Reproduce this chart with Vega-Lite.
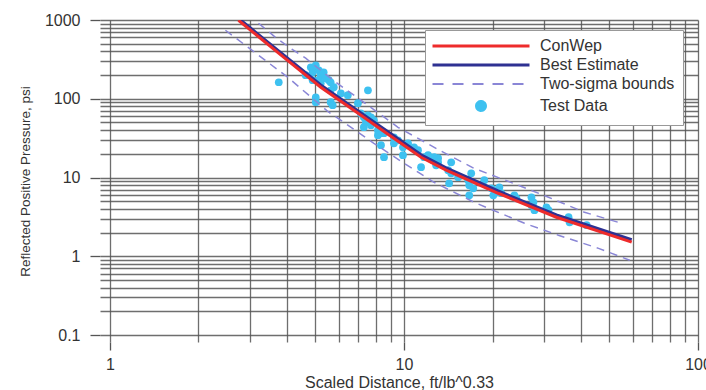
{
  "$schema": "https://vega.github.io/schema/vega-lite/v6.json",
  "width": 598,
  "height": 322,
  "autosize": {"type": "none"},
  "padding": {"left": 100, "top": 20, "right": 8, "bottom": 48},
  "background": "white",
  "config": {
    "view": {"stroke": null},
    "font": "Liberation Sans",
    "axis": {"domain": false, "gridColor": "#555555", "gridWidth": 1.3, "gridOpacity": 0.85, "tickColor": "#555555", "tickWidth": 1.3, "labelColor": "#333", "titleColor": "#333", "labelFont": "Liberation Sans", "titleFont": "Liberation Sans", "titleFontWeight": "normal"}
  },
  "datasets": {
    "pts": [
      {"series": "Test Data", "x": 3.75, "y": 162}, {"series": "Test Data", "x": 4.63, "y": 199}, {"series": "Test Data", "x": 4.82, "y": 251}, {"series": "Test Data", "x": 4.89, "y": 217},
      {"series": "Test Data", "x": 5.01, "y": 266}, {"series": "Test Data", "x": 5.13, "y": 230}, {"series": "Test Data", "x": 5.21, "y": 199}, {"series": "Test Data", "x": 5.33, "y": 217},
      {"series": "Test Data", "x": 5.13, "y": 172}, {"series": "Test Data", "x": 5.42, "y": 182}, {"series": "Test Data", "x": 4.89, "y": 172}, {"series": "Test Data", "x": 5.21, "y": 157},
      {"series": "Test Data", "x": 5.01, "y": 104}, {"series": "Test Data", "x": 5.01, "y": 90.3}, {"series": "Test Data", "x": 5.55, "y": 172}, {"series": "Test Data", "x": 5.63, "y": 162},
      {"series": "Test Data", "x": 5.77, "y": 140}, {"series": "Test Data", "x": 5.63, "y": 128}, {"series": "Test Data", "x": 5.63, "y": 90.3}, {"series": "Test Data", "x": 5.72, "y": 82.7},
      {"series": "Test Data", "x": 6.10, "y": 117}, {"series": "Test Data", "x": 6.44, "y": 111}, {"series": "Test Data", "x": 7.54, "y": 128}, {"series": "Test Data", "x": 6.97, "y": 87.7},
      {"series": "Test Data", "x": 7.13, "y": 65.4}, {"series": "Test Data", "x": 7.30, "y": 58.2}, {"series": "Test Data", "x": 7.42, "y": 50.3}, {"series": "Test Data", "x": 7.54, "y": 61.7},
      {"series": "Test Data", "x": 7.72, "y": 46.1}, {"series": "Test Data", "x": 7.90, "y": 53.3}, {"series": "Test Data", "x": 7.30, "y": 43.5}, {"series": "Test Data", "x": 7.72, "y": 58.2},
      {"series": "Test Data", "x": 8.15, "y": 39.8}, {"series": "Test Data", "x": 8.35, "y": 36.5}, {"series": "Test Data", "x": 8.15, "y": 34.4}, {"series": "Test Data", "x": 8.55, "y": 36.5},
      {"series": "Test Data", "x": 8.35, "y": 25.7}, {"series": "Test Data", "x": 8.55, "y": 18.1}, {"series": "Test Data", "x": 9.24, "y": 32.4}, {"series": "Test Data", "x": 9.54, "y": 29.7},
      {"series": "Test Data", "x": 9.24, "y": 27.2}, {"series": "Test Data", "x": 9.92, "y": 24.2}, {"series": "Test Data", "x": 10.0, "y": 25.7}, {"series": "Test Data", "x": 9.92, "y": 19.2},
      {"series": "Test Data", "x": 10.32, "y": 27.2}, {"series": "Test Data", "x": 10.82, "y": 24.2}, {"series": "Test Data", "x": 11.16, "y": 22.2}, {"series": "Test Data", "x": 11.43, "y": 13.5},
      {"series": "Test Data", "x": 11.70, "y": 18.1}, {"series": "Test Data", "x": 12.08, "y": 19.2}, {"series": "Test Data", "x": 12.56, "y": 16.6}, {"series": "Test Data", "x": 12.86, "y": 14.3},
      {"series": "Test Data", "x": 13.06, "y": 17.6}, {"series": "Test Data", "x": 12.66, "y": 18.1}, {"series": "Test Data", "x": 13.06, "y": 15.6}, {"series": "Test Data", "x": 14.47, "y": 15.6},
      {"series": "Test Data", "x": 14.13, "y": 12.4}, {"series": "Test Data", "x": 14.47, "y": 11.3}, {"series": "Test Data", "x": 14.24, "y": 8.45}, {"series": "Test Data", "x": 15.28, "y": 10.1},
      {"series": "Test Data", "x": 16.93, "y": 11.3}, {"series": "Test Data", "x": 16.54, "y": 9.23}, {"series": "Test Data", "x": 16.67, "y": 7.97}, {"series": "Test Data", "x": 17.20, "y": 7.30},
      {"series": "Test Data", "x": 18.75, "y": 9.23}, {"series": "Test Data", "x": 16.67, "y": 5.95}, {"series": "Test Data", "x": 19.81, "y": 7.30}, {"series": "Test Data", "x": 20.29, "y": 6.89},
      {"series": "Test Data", "x": 20.94, "y": 6.50}, {"series": "Test Data", "x": 21.44, "y": 6.31}, {"series": "Test Data", "x": 20.13, "y": 5.95}, {"series": "Test Data", "x": 21.10, "y": 7.52},
      {"series": "Test Data", "x": 23.74, "y": 5.95}, {"series": "Test Data", "x": 24.12, "y": 5.45}, {"series": "Test Data", "x": 27.13, "y": 5.61}, {"series": "Test Data", "x": 27.56, "y": 4.85},
      {"series": "Test Data", "x": 27.13, "y": 4.44}, {"series": "Test Data", "x": 27.78, "y": 3.84}, {"series": "Test Data", "x": 30.52, "y": 4.19}, {"series": "Test Data", "x": 31.0, "y": 3.84},
      {"series": "Test Data", "x": 36.29, "y": 3.13}, {"series": "Test Data", "x": 36.58, "y": 2.70}, {"series": "Test Data", "x": 41.81, "y": 2.48}
    ],
    "bounds": [
      {"series": "Two-sigma bounds", "part": "upper", "x": 3.2, "y": 909},
      {"series": "Two-sigma bounds", "part": "upper", "x": 3.66, "y": 600},
      {"series": "Two-sigma bounds", "part": "upper", "x": 4.18, "y": 420},
      {"series": "Two-sigma bounds", "part": "upper", "x": 4.63, "y": 327},
      {"series": "Two-sigma bounds", "part": "upper", "x": 5.8, "y": 167},
      {"series": "Two-sigma bounds", "part": "upper", "x": 6.97, "y": 102},
      {"series": "Two-sigma bounds", "part": "upper", "x": 9.54, "y": 43.4},
      {"series": "Two-sigma bounds", "part": "upper", "x": 13.2, "y": 22.2},
      {"series": "Two-sigma bounds", "part": "upper", "x": 17.3, "y": 13.1},
      {"series": "Two-sigma bounds", "part": "upper", "x": 24.5, "y": 7.97},
      {"series": "Two-sigma bounds", "part": "upper", "x": 31.0, "y": 5.61},
      {"series": "Two-sigma bounds", "part": "upper", "x": 41.1, "y": 3.62},
      {"series": "Two-sigma bounds", "part": "upper", "x": 55.0, "y": 2.62},
      {"series": "Two-sigma bounds", "part": "lower", "x": 2.47, "y": 741},
      {"series": "Two-sigma bounds", "part": "lower", "x": 3.2, "y": 357},
      {"series": "Two-sigma bounds", "part": "lower", "x": 4.02, "y": 188},
      {"series": "Two-sigma bounds", "part": "lower", "x": 5.55, "y": 67.4},
      {"series": "Two-sigma bounds", "part": "lower", "x": 6.24, "y": 50.3},
      {"series": "Two-sigma bounds", "part": "lower", "x": 7.9, "y": 27.2},
      {"series": "Two-sigma bounds", "part": "lower", "x": 10.0, "y": 15.2},
      {"series": "Two-sigma bounds", "part": "lower", "x": 12.65, "y": 8.7},
      {"series": "Two-sigma bounds", "part": "lower", "x": 17.3, "y": 4.85},
      {"series": "Two-sigma bounds", "part": "lower", "x": 25.7, "y": 2.62},
      {"series": "Two-sigma bounds", "part": "lower", "x": 33.5, "y": 1.85},
      {"series": "Two-sigma bounds", "part": "lower", "x": 45.9, "y": 1.26},
      {"series": "Two-sigma bounds", "part": "lower", "x": 58.6, "y": 0.89}
    ],
    "best": [
      {"series": "Best Estimate", "x": 2.78, "y": 1000},
      {"series": "Best Estimate", "x": 3.8, "y": 388},
      {"series": "Best Estimate", "x": 5.21, "y": 150},
      {"series": "Best Estimate", "x": 6.75, "y": 76.4},
      {"series": "Best Estimate", "x": 8.82, "y": 38},
      {"series": "Best Estimate", "x": 11.43, "y": 19.4},
      {"series": "Best Estimate", "x": 13.91, "y": 13.3},
      {"series": "Best Estimate", "x": 20.9, "y": 6.75},
      {"series": "Best Estimate", "x": 33.0, "y": 3.35},
      {"series": "Best Estimate", "x": 59.5, "y": 1.62}
    ],
    "conwep": [
      {"series": "ConWep", "x": 2.735, "y": 993},
      {"series": "ConWep", "x": 3.8, "y": 363},
      {"series": "ConWep", "x": 5.21, "y": 140},
      {"series": "ConWep", "x": 6.75, "y": 71.4},
      {"series": "ConWep", "x": 8.82, "y": 35.5},
      {"series": "ConWep", "x": 11.43, "y": 18.1},
      {"series": "ConWep", "x": 13.91, "y": 12.4},
      {"series": "ConWep", "x": 20.9, "y": 6.31},
      {"series": "ConWep", "x": 33.0, "y": 3.13},
      {"series": "ConWep", "x": 59.5, "y": 1.51}
    ]
  },
  "encoding": {
    "x": {
      "field": "x", "type": "quantitative",
      "scale": {"type": "log", "domain": [0.9247, 100], "nice": false},
      "axis": {
        "title": "Scaled Distance, ft/lb^0.33",
        "values": [1, 2, 3, 4, 5, 6, 7, 8, 9, 10, 20, 30, 40, 50, 60, 70, 80, 90, 100],
        "grid": true,
        "format": "~g",
        "labelExpr": "(datum.value == 1 || datum.value == 10 || datum.value == 100) ? datum.label : ''",
        "labelOverlap": false,
        "labelFlush": false,
        "labelFontSize": 16,
        "labelPadding": 6,
        "tickSize": 8,
        "tickOpacity": {"condition": {"test": "datum.value == 1 || datum.value == 10 || datum.value == 100", "value": 1}, "value": 0},
        "titleFontSize": 16,
        "titlePadding": 2
      }
    },
    "y": {
      "field": "y", "type": "quantitative",
      "scale": {"type": "log", "domain": [0.0815, 1000], "nice": false},
      "axis": {
        "title": "Reflected Positive Pressure, psi",
        "values": [0.1, 0.2, 0.3, 0.4, 0.5, 0.6, 0.7, 0.8, 0.9, 1, 2, 3, 4, 5, 6, 7, 8, 9, 10, 20, 30, 40, 50, 60, 70, 80, 90, 100, 200, 300, 400, 500, 600, 700, 800, 900, 1000],
        "grid": true,
        "format": "~g",
        "labelExpr": "(datum.value == 0.1 || datum.value == 1 || datum.value == 10 || datum.value == 100 || datum.value == 1000) ? datum.label : ''",
        "labelOverlap": false,
        "labelFlush": false,
        "labelFontSize": 16,
        "labelPadding": 10,
        "tickSize": 10,
        "tickOpacity": {"condition": {"test": "datum.value == 0.1 || datum.value == 1 || datum.value == 10 || datum.value == 100 || datum.value == 1000", "value": 1}, "value": 0},
        "titleFontSize": 13.5,
        "titlePadding": 12
      }
    },
    "color": {
      "field": "series", "type": "nominal",
      "scale": {"domain": ["ConWep", "Best Estimate", "Two-sigma bounds", "Test Data"], "range": ["#ee2b2b", "#2e3192", "#8a86d6", "#3ec1f0"]},
      "legend": {
        "title": null,
        "orient": "none",
        "legendX": 325,
        "legendY": 10,
        "padding": 8,
        "strokeColor": "#999999",
        "fillColor": "white",
        "labelFont": "Liberation Sans",
        "labelFontSize": 16,
        "labelColor": "#333",
        "labelOffset": 51,
        "symbolOffset": 40,
        "symbolType": "stroke",
        "symbolSize": 9409,
        "symbolStrokeWidth": 3,
        "rowPadding": 3,
        "encode": {
          "symbols": {
            "update": {
              "shape": {"signal": "datum.value === 'Test Data' ? 'circle' : 'stroke'"},
              "size": {"signal": "datum.value === 'Test Data' ? 80 : 9409"},
              "fill": {"signal": "datum.value === 'Test Data' ? '#3ec1f0' : 'transparent'"},
              "stroke": {"signal": "datum.value === 'ConWep' ? '#ee2b2b' : datum.value === 'Best Estimate' ? '#2e3192' : datum.value === 'Two-sigma bounds' ? '#b9b6e6' : 'transparent'"},
              "strokeWidth": {"signal": "datum.value === 'Two-sigma bounds' ? 2 : 3"},
              "strokeDash": {"signal": "datum.value === 'Two-sigma bounds' ? [11, 9] : [1, 0]"},
              "opacity": {"value": 1}
            }
          }
        }
      }
    }
  },
  "layer": [
    {
      "data": {"name": "pts"},
      "mark": {"type": "circle", "size": 60, "opacity": 1, "clip": true}
    },
    {
      "data": {"name": "bounds"},
      "mark": {"type": "line", "strokeWidth": 1.5, "strokeDash": [8, 6], "clip": true},
      "encoding": {"detail": {"field": "part", "type": "nominal"}}
    },
    {
      "data": {"name": "best"},
      "mark": {"type": "line", "strokeWidth": 3, "clip": true},
      "encoding": {}
    },
    {
      "data": {"name": "conwep"},
      "mark": {"type": "line", "strokeWidth": 3, "clip": true},
      "encoding": {}
    }
  ]
}
